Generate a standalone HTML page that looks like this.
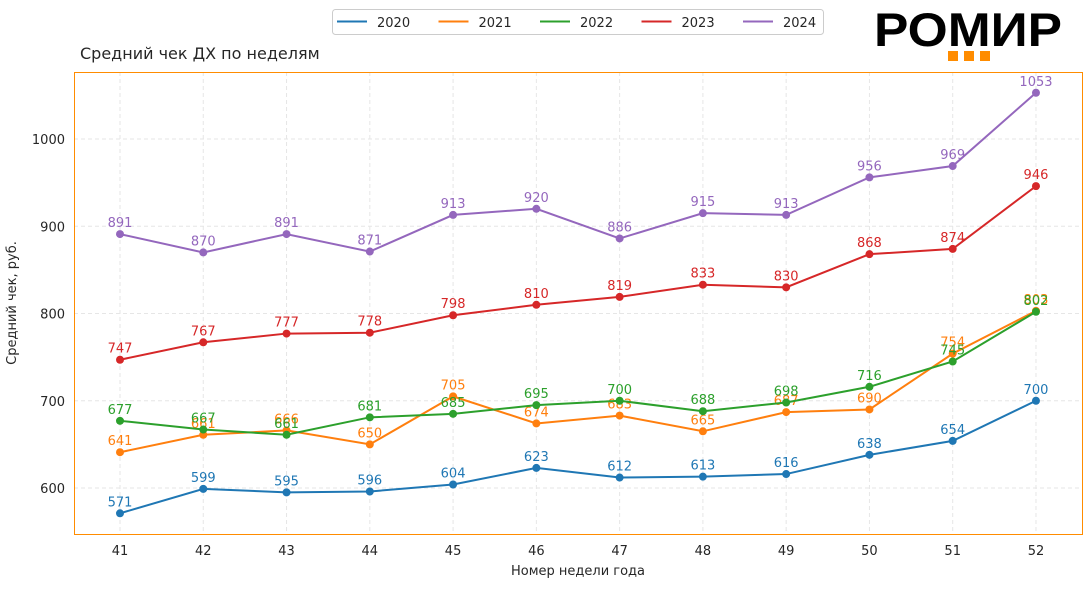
<!DOCTYPE html>
<html><head><meta charset="utf-8"><style>
body{margin:0;background:#fff;width:1091px;height:587px;overflow:hidden}
text{font-family:"DejaVu Sans","Liberation Sans",sans-serif}
</style></head><body>
<svg id="s" width="1091" height="587" xmlns="http://www.w3.org/2000/svg">
<rect x="0" y="0" width="1091" height="587" fill="#fff"/>
<text x="80" y="59" font-size="16" fill="#262626">Средний чек ДХ по неделям</text>
<text x="968" y="46" font-size="47" font-weight="bold" text-anchor="middle" fill="#000" textLength="188" lengthAdjust="spacingAndGlyphs" style="font-family:'Liberation Sans',sans-serif">РОМИР</text>
<rect x="948" y="51" width="10" height="10" fill="#ff8c00"/>
<rect x="964" y="51" width="10" height="10" fill="#ff8c00"/>
<rect x="980" y="51" width="10" height="10" fill="#ff8c00"/>
<rect x="332.5" y="9.5" width="491" height="25" rx="3" fill="#fff" stroke="#ccc"/>
<g id="g"></g>
<rect x="74.5" y="72.5" width="1008" height="462" fill="none" stroke="#ff8c00" stroke-width="1"/>
<text x="16" y="303" font-size="13" fill="#262626" text-anchor="middle" transform="rotate(-90 16 303)">Средний чек, руб.</text>
<text x="578" y="575" font-size="13" fill="#262626" text-anchor="middle">Номер недели года</text>
</svg>
<script>
var g=document.getElementById('g'),h='';
function X(i){return 120+i*83.27}
function Y(v){return 488-(v-600)*0.8725}
for(var t=600;t<=1000;t+=100){h+='<line x1="74" x2="1082" y1="'+Y(t)+'" y2="'+Y(t)+'" stroke="#e6e6e6" stroke-dasharray="4,3"/>';h+='<text x="65" y="'+(Y(t)+5)+'" font-size="13" text-anchor="end" fill="#262626">'+t+'</text>';}
for(var i=0;i<12;i++){h+='<line y1="72" y2="534" x1="'+X(i)+'" x2="'+X(i)+'" stroke="#e6e6e6" stroke-dasharray="4,3"/>';h+='<text x="'+X(i)+'" y="555" font-size="13" text-anchor="middle" fill="#262626">'+(41+i)+'</text>';}
var D=[["#1f77b4",[571,599,595,596,604,623,612,613,616,638,654,700]],
["#ff7f0e",[641,661,666,650,705,674,683,665,687,690,754,803]],
["#2ca02c",[677,667,661,681,685,695,700,688,698,716,745,802]],
["#d62728",[747,767,777,778,798,810,819,833,830,868,874,946]],
["#9467bd",[891,870,891,871,913,920,886,915,913,956,969,1053]]];
D.forEach(function(d,k){var p=d[1].map(function(v,i){return X(i)+','+Y(v)}).join(' ');
h+='<polyline points="'+p+'" fill="none" stroke="'+d[0]+'" stroke-width="2"/>';
d[1].forEach(function(v,i){h+='<circle cx="'+X(i)+'" cy="'+Y(v)+'" r="4" fill="'+d[0]+'"/>';h+='<text x="'+X(i)+'" y="'+(Y(v)-7)+'" font-size="13" text-anchor="middle" fill="'+d[0]+'">'+v+'</text>';});
var lx=337+k*101.5;h+='<line x1="'+lx+'" x2="'+(lx+30)+'" y1="21.5" y2="21.5" stroke="'+d[0]+'" stroke-width="2"/><text x="'+(lx+40)+'" y="27" font-size="13" fill="#262626">'+(2020+k)+'</text>';});
g.innerHTML=h;
</script>
</body></html>
